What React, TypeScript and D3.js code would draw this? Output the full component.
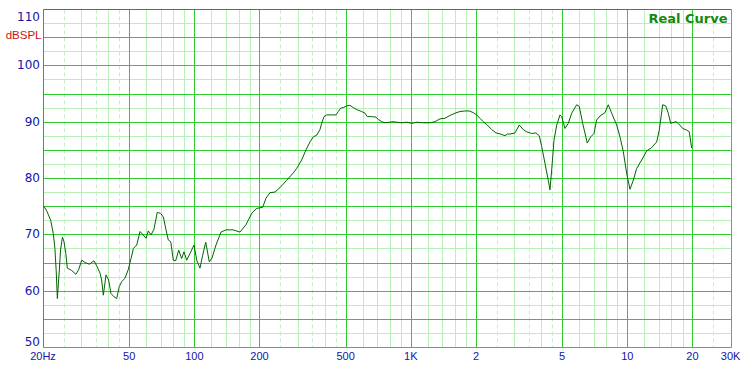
import React from "react";
import * as d3 from "d3";

const freqs = [
  20.2, 20.9, 21.7, 22.3, 22.7, 23.0, 23.3, 23.8, 24.1, 24.6, 25.0, 25.5, 25.9, 27.1, 28.4, 29.2,
  30.2, 31.3, 32.7, 34.4, 35.4, 36.7, 37.3, 38.0, 39.1, 40.2, 41.2, 42.6, 43.8, 45.0, 46.2, 47.8,
  49.5, 51.0, 52.3, 54.2, 56.1, 58.1, 59.8, 61.3, 63.1, 65.1, 67.4, 69.9, 71.9, 74.0, 75.8, 77.8,
  80.0, 82.0, 84.7, 87.4, 89.6, 92.2, 95.5, 99.7, 102.6, 106.2, 109.3, 112.9, 117.3,
  120.7, 125.9, 132.8, 140.1, 150.9, 162.5, 173.2, 184.7,
  194.1, 206.9, 214.3, 223.6, 235.9, 248.7, 267.2, 286.5, 297.1, 313.3, 327.9, 342.2, 354.4, 367.5,
  380.6, 387.5, 397.1, 408.7, 431.0, 451.2, 462.4, 474.3, 487.6, 505.6, 523.6, 542.3, 565.9, 593.0,
  614.2, 629.4, 659.5, 690.4, 707.5, 733.5, 759.7, 795.2, 829.8, 860.3, 907.3, 956.9, 1009, 1064,
  1142, 1226, 1293, 1364, 1438, 1517, 1600, 1687, 1779, 1862, 1943, 2015, 2087, 2161, 2255, 2363,
  2474, 2601, 2723, 2790, 2871,
  3028, 3170, 3308, 3429, 3617, 3786, 3921, 4022, 4166, 4315, 4393, 4474, 4584, 4719, 4888, 4977,
  5154, 5338, 5535, 5837, 6001, 6221, 6533, 6774, 7016, 7220, 7478, 7887, 8168, 8469, 8932, 9251,
  9581, 9934, 10289, 10657, 11049, 11653, 12288, 12960, 13667, 14050, 14568, 15040, 15462, 15862,
  16782, 17198, 18020, 18803, 19330, 19830,
];

const spl = [
  75.0, 74.0, 72.5, 70.2, 67.5, 63.7, 58.6, 63.7, 67.2, 69.5, 68.7, 66.6, 64.0, 63.6, 62.9, 63.7,
  65.4, 65.0, 64.7, 65.3, 64.4, 63.1, 61.9, 59.2, 62.8, 61.9, 59.5, 58.9, 58.6, 60.7, 61.6, 62.2,
  63.7, 65.7, 67.5, 68.1, 70.5, 69.9, 69.3, 70.6, 69.9, 70.9, 73.9, 73.7, 73.1, 70.8, 69.0, 68.7,
  65.4, 65.3, 67.2, 65.7, 66.9, 65.4, 66.6, 68.1, 65.4, 64.0, 66.3, 68.6, 65.1,
  65.8, 68.1, 70.4, 70.8, 70.8, 70.4, 71.7, 73.8,
  74.6, 74.8, 76.4, 77.4, 77.5, 78.3, 79.6, 80.9, 81.7, 83.2, 85.0, 86.4, 87.3, 87.6,
  88.6, 89.7, 90.9, 91.2, 91.2, 91.2, 91.8, 92.4, 92.5, 92.8, 92.9, 92.5, 92.1, 91.8,
  91.5, 90.9, 90.9, 90.8, 90.4, 90.0, 89.8, 89.9, 90.0, 89.9, 89.8, 89.9, 89.7, 89.9,
  89.8, 89.8, 90.0, 90.5, 90.6, 91.1, 91.5, 91.8, 91.9, 91.9, 91.6, 91.2, 90.6, 90.0, 89.4, 88.6,
  88.0, 87.8, 87.5, 87.8, 87.8,
  88.0, 89.4, 88.6, 88.2, 87.9, 88.0, 87.5, 85.6, 82.6, 79.6, 77.9, 81.4, 86.7, 89.4, 91.2, 90.9,
  88.8, 89.7, 91.5, 93.0, 92.7, 89.7, 86.2, 87.3, 87.9, 90.3, 91.0, 91.6, 93.0, 91.5, 89.4, 87.3,
  84.7, 80.8, 78.0, 79.6, 81.7, 83.2, 84.8, 85.4, 86.4, 88.5, 93.0, 92.8, 91.5, 89.7,
  90.0, 89.7, 88.8, 88.5, 88.2, 85.3,
];

const xTickValues = [20, 50, 100, 200, 500, 1000, 2000, 5000, 10000, 20000, 30000];
const xTickLabels = ["20Hz", "50", "100", "200", "500", "1K", "2", "5", "10", "20", "30K"];
const yTickValues = [110, 100, 90, 80, 70, 60, 50];
const yTickLabels = ["110", "100", "90", "80", "70", "60", "50"];
const majorX = [50, 100, 200, 500, 1000, 2000, 5000, 10000, 20000];
const minorSolidMults = [1.2, 1.4, 1.6, 1.8, 3, 4, 6, 7, 8, 9];
const minorDashMults = [2.5, 3.5, 4.5];
const decades = [10, 100, 1000, 10000];

const W = 754;
const H = 375;
const fMin = 20;
const fMax = 30000;

export default function App() {
  const x = d3.scaleLog().domain([fMin, fMax]).range([43, 730.6]);
  const y = d3.scaleLinear().domain([50, 110]).range([347, 9]);
  const px = (v: number) => Math.round(x(v)) + 0.5;
  const py = (v: number) => Math.round(y(v)) + 0.5;

  const inside = (f: number) => f > fMin * 1.001 && f < fMax * 0.999;
  const minorSolid: number[] = [];
  const minorDash: number[] = [];
  decades.forEach((d) => {
    minorSolidMults.forEach((m) => inside(d * m) && minorSolid.push(d * m));
    minorDashMults.forEach((m) => inside(d * m) && minorDash.push(d * m));
  });

  const hMajor = d3.range(55, 110, 5);
  const hMinor = d3.range(52.5, 110, 5);

  const left = px(fMin);
  const right = px(fMax);
  const top = py(110);
  const bottom = py(50);

  const line = d3
    .line<number>()
    .x((_, i) => x(freqs[i]))
    .y((d) => y(d));

  const minorColor = "#b8f0b8";
  const majorColor = "#2ecc2e";

  return (
    <svg
      width={W}
      height={H}
      style={{ position: "absolute", left: 0, top: 0, background: "#fff" }}
    >
      <rect x={0} y={0} width={W} height={H} fill="#fff" />
      {hMinor.map((v) => (
        <line key={"hm" + v} x1={left} x2={right} y1={py(v)} y2={py(v)} stroke={minorColor} strokeWidth={1} />
      ))}
      {minorSolid.map((f) => (
        <line key={"vs" + f} x1={px(f)} x2={px(f)} y1={top} y2={bottom} stroke={minorColor} strokeWidth={1} />
      ))}
      {minorDash.map((f) => (
        <line
          key={"vd" + f}
          x1={px(f)}
          x2={px(f)}
          y1={top}
          y2={bottom}
          stroke="#c4eec4"
          strokeWidth={1}
          strokeDasharray="4,3"
        />
      ))}
      {hMajor.map((v) => (
        <line key={"hM" + v} x1={left} x2={right} y1={py(v)} y2={py(v)} stroke={majorColor} strokeWidth={1} />
      ))}
      {majorX.map((f) => (
        <line key={"vM" + f} x1={px(f)} x2={px(f)} y1={top} y2={bottom} stroke={majorColor} strokeWidth={1} />
      ))}
      <line x1={left} x2={right} y1={bottom} y2={bottom} stroke={majorColor} strokeWidth={1} />
      <line x1={right} x2={right} y1={top} y2={bottom} stroke={majorColor} strokeWidth={1} />
      <line x1={left} x2={left} y1={top} y2={bottom} stroke="#22b022" strokeWidth={1} />
      <line x1={left} x2={right} y1={top} y2={top} stroke="#1f9a1f" strokeWidth={1} />

      <path d={line(spl) || ""} fill="none" stroke="#006400" strokeWidth={1} />

      {yTickValues.map((v, i) => {
        let yy = y(v);
        if (v === 110) yy = y(v) + 7.5;
        if (v === 50) yy = y(v) - 5.5;
        return (
          <text
            key={"yt" + v}
            x={40}
            y={yy}
            textAnchor="end"
            dominantBaseline="central"
            fontFamily="DejaVu Sans"
            fontSize={12}
            fill="#1414a8"
          >
            {yTickLabels[i]}
          </text>
        );
      })}
      <text
        x={41.5}
        y={39.3}
        textAnchor="end"
        fontFamily="Liberation Sans, Arial"
        fontSize={11.5}
        fill="#cc1010"
      >
        dBSPL
      </text>
      {xTickValues.map((v, i) => (
        <text
          key={"xt" + v}
          x={x(v)}
          y={360}
          textAnchor="middle"
          fontFamily="Liberation Sans, Arial"
          fontSize={11}
          fill="#1414a8"
        >
          {xTickLabels[i]}
        </text>
      ))}
      <text
        x={727.5}
        y={23.3}
        textAnchor="end"
        fontFamily="DejaVu Sans"
        fontWeight="bold"
        fontSize={13}
        fill="#108a10"
      >
        Real Curve
      </text>
    </svg>
  );
}
